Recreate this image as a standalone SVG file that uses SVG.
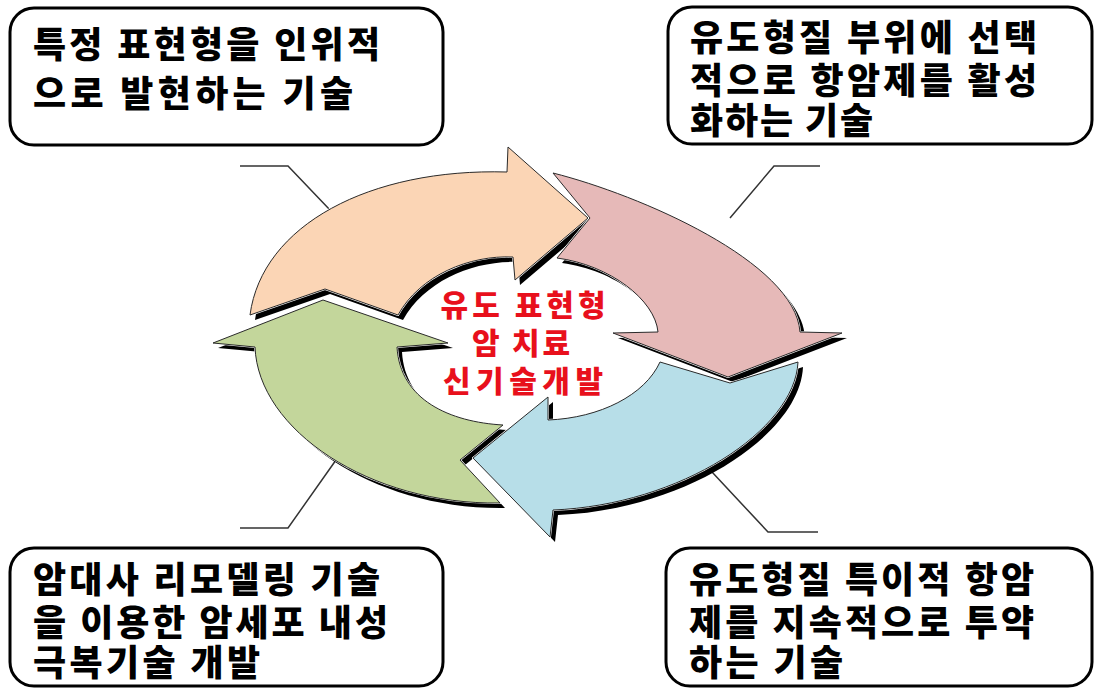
<svg xmlns="http://www.w3.org/2000/svg" xmlns:xlink="http://www.w3.org/1999/xlink" width="1096" height="690" viewBox="0 0 1096 690">
<style>
.box{fill:#fff;stroke:#000;stroke-width:3}
.lbl{font-family:"Noto Sans CJK KR","Noto Sans",sans-serif;font-weight:900;font-size:36px;fill:#000}
.ctr{font-family:"Noto Sans CJK KR","Noto Sans",sans-serif;font-weight:900;font-size:30px;fill:#e8101c;text-anchor:middle}
.lead{fill:none;stroke:#333;stroke-width:1.5}
.shadow{fill:#000}
.gap{fill:none;stroke:#fff;stroke-width:2;stroke-linejoin:round}
.arw{stroke:#2a2a2a;stroke-width:1}
</style>
<defs>
<path id="pOrange" d="M250,315 C262,225 370,168 507,172 L508,147 L588,218 L515,280 L513,257 C470,255 420,275 398,315 L325,289 Z"/>
<path id="pPink" d="M553,173 C640,195 795,262 800,332 L842,333 L728,377 L613,333 L658,332 C655,300 610,265 557,258 L590,218 Z"/>
<path id="pBlue" d="M473,458 L548,397 L548,420 C600,418 645,395 660,362 L730,383 L798,362 C795,430 680,505 553,510 L550,537 Z"/>
<path id="pGreen" d="M323,300 L448,343 L397,347 C400,400 450,422 503,425 L460,460 L500,503 C370,505 258,430 255,347 L213,343 Z"/>
</defs>
<rect width="1096" height="690" fill="#fff"/>
<g id="connectors">
<polyline class="lead" points="240,166 288,166 330,210"/>
<polyline class="lead" points="730,218 774,166 820,166"/>
<polyline class="lead" points="712,472 768,532 818,532"/>
<polyline class="lead" points="336,460 288,528 240,528"/>
</g>
<g id="cycle">
<g id="shadows" transform="translate(5,5)">
<use xlink:href="#pOrange" class="shadow"/>
<use xlink:href="#pPink" class="shadow"/>
<use xlink:href="#pBlue" class="shadow"/>
<use xlink:href="#pGreen" class="shadow"/>
</g>
<g id="arrow-orange"><use xlink:href="#pOrange" class="gap"/><use xlink:href="#pOrange" class="arw" fill="#fbd5b5"/></g>
<g id="arrow-pink"><use xlink:href="#pPink" class="gap"/><use xlink:href="#pPink" class="arw" fill="#e6b9b8"/></g>
<g id="arrow-blue"><use xlink:href="#pBlue" class="gap"/><use xlink:href="#pBlue" class="arw" fill="#b7dee8"/></g>
<g id="arrow-green"><use xlink:href="#pGreen" class="gap"/><use xlink:href="#pGreen" class="arw" fill="#c3d69b"/></g>
</g>
<g id="center">
<text class="ctr" x="523" y="316" textLength="165" lengthAdjust="spacing">유도 표현형</text>
<text class="ctr" x="521" y="354" textLength="98" lengthAdjust="spacing">암 치료</text>
<text class="ctr" x="523" y="392" textLength="160" lengthAdjust="spacing">신기술개발</text>
</g>
<g id="box-tl">
<rect class="box" x="10" y="8" width="433" height="137" rx="24"/>
<text class="lbl" x="33" y="58" textLength="347" lengthAdjust="spacing">특정 표현형을 인위적</text>
<text class="lbl" x="33" y="107" textLength="320" lengthAdjust="spacing">으로 발현하는 기술</text>
</g>
<g id="box-tr">
<rect class="box" x="668" y="7" width="424" height="137" rx="24"/>
<text class="lbl" x="690" y="51" textLength="347" lengthAdjust="spacing">유도형질 부위에 선택</text>
<text class="lbl" x="690" y="94" textLength="347" lengthAdjust="spacing">적으로 항암제를 활성</text>
<text class="lbl" x="690" y="134" textLength="183" lengthAdjust="spacing">화하는 기술</text>
</g>
<g id="box-bl">
<rect class="box" x="10" y="548" width="433" height="138" rx="24"/>
<text class="lbl" x="33" y="593" textLength="347" lengthAdjust="spacing">암대사 리모델링 기술</text>
<text class="lbl" x="33" y="636" textLength="355" lengthAdjust="spacing">을 이용한 암세포 내성</text>
<text class="lbl" x="33" y="676" textLength="227" lengthAdjust="spacing">극복기술 개발</text>
</g>
<g id="box-br">
<rect class="box" x="666" y="548" width="426" height="138" rx="24"/>
<text class="lbl" x="689" y="593" textLength="345" lengthAdjust="spacing">유도형질 특이적 항암</text>
<text class="lbl" x="689" y="636" textLength="345" lengthAdjust="spacing">제를 지속적으로 투약</text>
<text class="lbl" x="689" y="676" textLength="154" lengthAdjust="spacing">하는 기술</text>
</g>
</svg>
